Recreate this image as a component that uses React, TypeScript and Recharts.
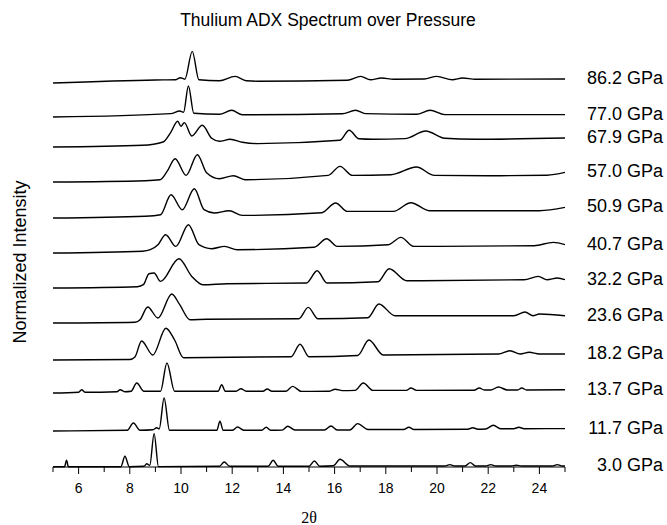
import { LineChart, Line, XAxis, YAxis, LabelList } from 'recharts';

// pressure of each pattern, bottom trace first
const pressureLabels = [
  '3.0 GPa', '11.7 GPa', '13.7 GPa', '18.2 GPa', '23.6 GPa', '32.2 GPa',
  '40.7 GPa', '50.9 GPa', '57.0 GPa', '67.9 GPa', '77.0 GPa', '86.2 GPa',
];

// vertical stacking offset of each pattern (arbitrary intensity units)
const stackOffsets = [0, 36, 74, 107, 144, 179, 214, 249, 285, 320, 350, 384];

// [2theta, intensity above offset]
const p3_0: [number, number][] = [
  [5, 0.3], [5.45, 0.3], [5.53, 6.7], [5.6, 0.3], [7.65, 0.3], [7.81, 10.7], [7.98, 0.3],
  [8.55, 0.7], [8.66, 3.2], [8.78, 1.7], [8.95, 33.4], [9.12, 0.4], [11.5, 0.7], [11.69, 5],
  [11.9, 0.7], [13.4, 0.7], [13.6, 6.7], [13.8, 0.7], [15, 0.7], [15.21, 6], [15.42, 0.7],
  [15.95, 1.2], [16.21, 7.7], [16.6, 1], [20.3, 1], [20.5, 2.4], [20.7, 1], [21.1, 1],
  [21.3, 4.4], [21.5, 1], [21.9, 1], [22.1, 2.4], [22.3, 1], [22.9, 1], [23.1, 1.7],
  [23.3, 1], [24.5, 1], [24.7, 2.4], [24.9, 1], [25, 1],
];
const p11_7: [number, number][] = [
  [5, 0], [7.9, 0.7], [8.14, 8], [8.4, 0.7], [8.9, 1.2], [9.05, 3.2], [9.15, 2.2], [9.34, 33],
  [9.55, 0.7], [11.4, 0.7], [11.52, 9.7], [11.65, 0.7], [12, 0.7], [12.21, 4], [12.45, 0.7],
  [13.15, 0.7], [13.33, 3.7], [13.5, 0.7], [13.95, 0.9], [14.17, 4.7], [14.45, 1], [15.6, 1],
  [15.86, 5], [16.1, 1], [16.6, 1], [16.9, 7.4], [17.3, 1.5], [18.7, 1.5], [18.9, 3.7],
  [19.1, 1.5], [21.2, 1.8], [21.4, 3.2], [21.6, 1.8], [21.9, 2], [22.2, 5.7], [22.5, 2.2],
  [23, 2.3], [23.2, 3.7], [23.4, 2.3], [25, 2.4],
];
const p13_7: [number, number][] = [
  [5, 0], [6, 0.8], [6.12, 3.3], [6.25, 0.8], [7.5, 1.3], [7.62, 3.3], [7.8, 1.3], [8.05, 1.8],
  [8.27, 10], [8.55, 1.8], [9.2, 1.8], [9.45, 30], [9.75, 1.8], [11.45, 1.8], [11.59, 8.3],
  [11.73, 1.8], [12.15, 1.8], [12.34, 4.3], [12.55, 1.8], [13.2, 1.8], [13.37, 4], [13.55, 1.8],
  [14.1, 1.8], [14.36, 6.6], [14.7, 1.6], [15.8, 1.8], [16.02, 3.8], [16.3, 2.4], [16.8, 2.6],
  [17.12, 10], [17.5, 2.6], [18.8, 2.6], [18.98, 5], [19.2, 2.6], [21.45, 2.8], [21.65, 5],
  [21.85, 3], [22.1, 3], [22.4, 6], [22.75, 3], [23.15, 3], [23.31, 5], [23.5, 3], [25, 3.3],
];
const p18_2: [number, number][] = [
  [5, 0], [8, 0.5], [8.2, 3], [8.46, 19], [8.9, 5], [9.41, 31.7], [9.75, 20], [10.1, 2.3],
  [14.3, 3.3], [14.65, 15.7], [15, 3.3], [16.9, 4.5], [17.34, 20], [17.9, 5], [22.4, 6],
  [22.85, 9.3], [23.25, 6], [23.6, 7.7], [24, 6], [25, 6],
];
const p23_6: [number, number][] = [
  [5, 0], [8.2, 0.8], [8.4, 3.3], [8.7, 16], [9.1, 5], [9.64, 29], [9.95, 18.3], [10.35, 3.3],
  [11, 3.8], [14.6, 4.3], [14.97, 15.6], [15.35, 4.3], [17.3, 5.3], [17.73, 19], [18.36, 7.3],
  [23, 7.3], [23.44, 11], [23.75, 7.3], [24, 9], [25, 7.3],
];
const p32_2: [number, number][] = [
  [5, 0], [8.3, 1.3], [8.53, 3.3], [8.75, 14.3], [8.95, 15], [9.2, 6.6], [9.92, 29.3],
  [10.42, 11.6], [10.85, 3.3], [11.8, 4.3], [14.9, 5], [15.32, 17.3], [15.7, 5], [17.7, 6.3],
  [18.13, 19.3], [18.82, 7.3], [23.4, 8.3], [23.96, 11.6], [24.3, 8.3], [24.7, 10], [25, 8.3],
];
const p40_7: [number, number][] = [
  [5, 0], [8.5, 1.8], [8.8, 3.3], [9.1, 8.3], [9.4, 18.3], [9.8, 6.6], [10.29, 28.3],
  [10.7, 8.3], [11.2, 4.3], [11.7, 6.6], [12.2, 3.3], [15.2, 5.8], [15.69, 14.3], [16.1, 6.6],
  [18.1, 8.3], [18.59, 15.6], [19.1, 6.6], [23.8, 7.3], [24.54, 10.6], [25, 8.3],
];
const p50_9: [number, number][] = [
  [5, 0], [8.6, 1.8], [9.2, 3.3], [9.61, 23.3], [10.05, 8.3], [10.52, 29.3], [10.9, 8.3],
  [11.3, 5], [11.88, 7.3], [12.4, 2.6], [15.5, 5.3], [16.04, 15], [16.5, 6.6], [18.3, 6.6],
  [18.98, 15.3], [19.7, 7.3], [24, 7.3], [25, 10.6],
];
const p57_0: [number, number][] = [
  [5, 0], [8.6, 1.3], [9.18, 2.3], [9.45, 10.3], [9.77, 23.3], [10.2, 6.6], [10.64, 27.3],
  [11, 9.3], [11.5, 3.3], [12.05, 6.3], [12.5, 2.3], [15.75, 6.6], [16.21, 15.6], [16.7, 6.6],
  [18.2, 7.3], [19.2, 15], [19.9, 6.6], [22, 6.3], [24.3, 6.8], [25, 9.6],
];
const p67_9: [number, number][] = [
  [5, 0], [8.5, 1.7], [9.3, 5], [9.6, 14.7], [9.87, 25.7], [10, 20.7], [10.13, 24.4],
  [10.42, 11], [10.83, 21.7], [11.2, 8.7], [11.5, 5.7], [11.92, 7.7], [12.4, 4.7], [13, 3.4],
  [16.2, 6.7], [16.57, 16.7], [16.95, 8.2], [17.5, 7.7], [18.75, 8.4], [19.56, 16], [20.3, 8.7],
  [21.5, 7.7], [25, 9],
];
const p77_0: [number, number][] = [
  [5, 0], [9.6, 3.4], [9.95, 6], [10.1, 4.7], [10.29, 31], [10.5, 3.7], [11.5, 2.7],
  [11.98, 6.7], [12.4, 2.2], [16.3, 3.2], [16.82, 6.7], [17.2, 3.4], [19.2, 2.7], [19.73, 6.7],
  [20.3, 2.4], [25, 2.4],
];
const p86_2: [number, number][] = [
  [5, 0], [9, 3], [9.8, 3.3], [9.97, 5.3], [10.15, 3.8], [10.44, 31.6], [10.7, 3.3], [11.5, 2.3],
  [12.11, 6.6], [12.55, 2.3], [13, 1.8], [16.5, 2.8], [17.02, 6.6], [17.4, 3.3], [17.84, 5],
  [18.3, 3.8], [19.5, 4], [19.99, 6.6], [20.6, 3.3], [21, 5], [21.5, 3.8], [25, 4],
];

const spectra = [p3_0, p11_7, p13_7, p18_2, p23_6, p32_2, p40_7, p50_9, p57_0, p67_9, p77_0, p86_2];

const xTicks = [5, 6, 7, 8, 9, 10, 11, 12, 13, 14, 15, 16, 17, 18, 19, 20, 21, 22, 23, 24, 25];
const xTickLabels = [6, 8, 10, 12, 14, 16, 18, 20, 22, 24];

const FONT = '"Liberation Sans", Arial, Helvetica, sans-serif';

const series = spectra.map((pts, i) => ({
  name: pressureLabels[i],
  data: pts.map(([x, v], j) => ({
    x,
    y: v + stackOffsets[i],
    tag: j === pts.length - 1 ? pressureLabels[i] : '',
  })),
}));

const AxisTick = (props: any) => {
  const { x, y, payload } = props;
  const v = payload.value;
  const major = v % 2 === 0;
  return (
    <g>
      <line x1={x} y1={y} x2={x} y2={y + (major ? 7 : 5)} stroke="#000" strokeWidth={1} />
      {xTickLabels.includes(v) && (
        <text x={x} y={y + 26} textAnchor="middle" fontSize={14} fontFamily={FONT} fill="#000">
          {v}
        </text>
      )}
    </g>
  );
};

const PressureLabel = (props: any) => {
  const { value } = props;
  if (!value) return null;
  const x = props.x ?? props.viewBox?.x;
  const y = props.y ?? props.viewBox?.y;
  return (
    <text x={x + 98} y={y - 1} textAnchor="end" dominantBaseline="central" fontSize={18} fontFamily={FONT} fill="#000">
      {value}
    </text>
  );
};

export default function App() {
  return (
    <div style={{ position: 'absolute', left: 0, top: 0, width: 667, height: 525, background: '#fff', fontFamily: FONT }}>
      <div
        style={{
          position: 'absolute', left: 128, top: 12, width: 400, textAlign: 'center',
          fontSize: 17.5, lineHeight: '17px', color: '#000', whiteSpace: 'nowrap',
        }}
      >
        Thulium ADX Spectrum over Pressure
      </div>
      <div
        style={{
          position: 'absolute', left: 20, top: 262, transform: 'translate(-50%, -50%) rotate(-90deg)',
          fontSize: 18, color: '#000', whiteSpace: 'nowrap',
        }}
      >
        Normalized Intensity
      </div>
      <div
        style={{
          position: 'absolute', left: 309, top: 518, transform: 'translate(-50%, -50%)',
          fontSize: 16, fontFamily: '"Liberation Serif", "DejaVu Serif", serif', color: '#000',
        }}
      >
        2θ
      </div>
      <LineChart width={667} height={525} margin={{ top: 50, right: 102, bottom: 0, left: 53 }}>
        <XAxis
          type="number"
          dataKey="x"
          domain={[5, 25]}
          ticks={xTicks}
          interval={0}
          allowDataOverflow
          height={58}
          tickSize={0}
          tickMargin={0}
          tickLine={false}
          axisLine={{ stroke: '#000', strokeWidth: 1.2 }}
          tick={<AxisTick />}
        />
        <YAxis
          type="number"
          domain={[0, 417]}
          width={0}
          tick={false}
          tickLine={false}
          axisLine={{ stroke: '#000', strokeWidth: 1.2 }}
        />
        {series.map((s) => (
          <Line
            key={s.name}
            name={s.name}
            data={s.data}
            dataKey="y"
            type="monotone"
            stroke="#000"
            strokeWidth={1.4}
            dot={false}
            activeDot={false}
            isAnimationActive={false}
          >
            <LabelList dataKey="tag" content={<PressureLabel />} />
          </Line>
        ))}
      </LineChart>
    </div>
  );
}
